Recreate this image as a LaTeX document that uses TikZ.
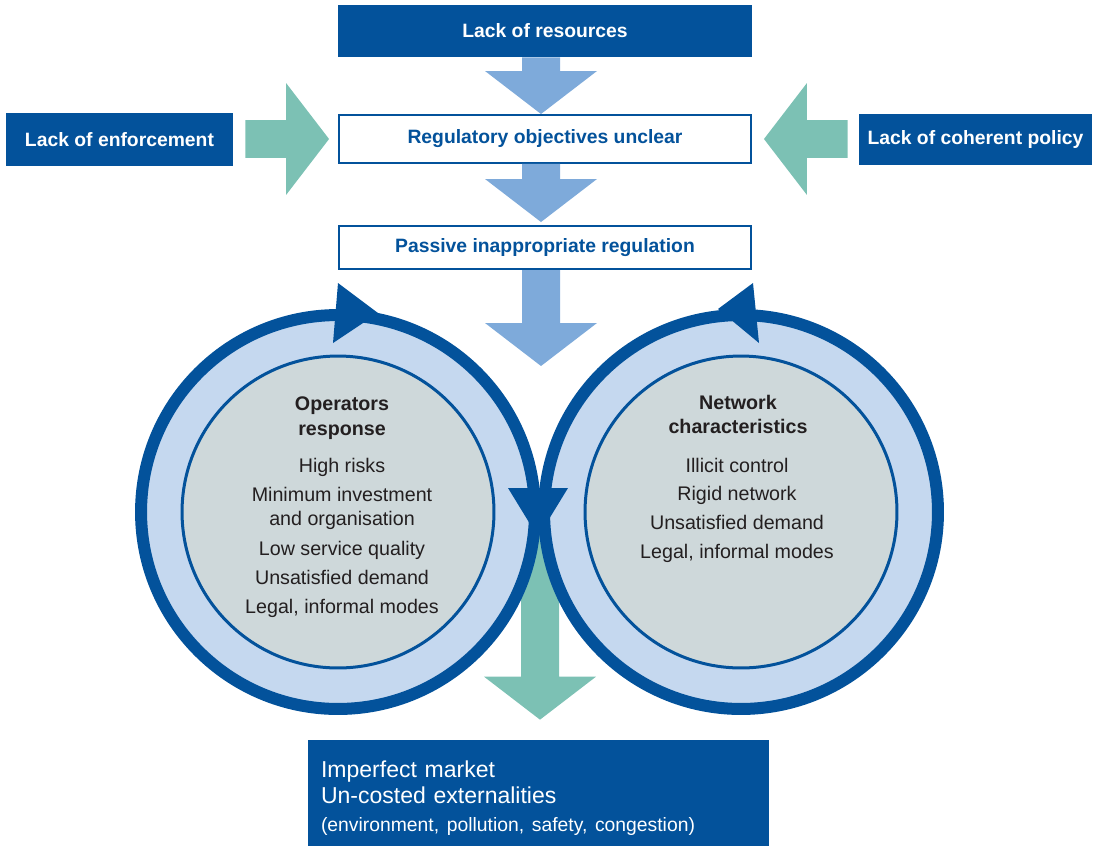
\documentclass[tikz,border=0pt]{standalone}
\usepackage{fontspec}
\setmainfont{Liberation Sans}
\usepackage{tikz}
\usetikzlibrary{calc}
\definecolor{navy}{RGB}{3,82,155}
\definecolor{skyarrow}{RGB}{126,170,218}
\definecolor{tealarrow}{RGB}{124,193,180}
\definecolor{ringfill}{RGB}{197,216,239}
\definecolor{corefill}{RGB}{206,216,218}
\definecolor{inktext}{RGB}{35,31,32}
\tikzset{
  loop chart/.style={
    dark box/.style={rectangle, fill=navy, text=white, inner sep=0pt,
        font={\bfseries\fontsize{11}{13}\selectfont}},
    light box/.style={rectangle, draw=navy, line width=0.04cm, fill=white, text=navy,
        inner sep=0pt, font={\bfseries\fontsize{11}{13}\selectfont}},
    ring/.style={circle, fill=ringfill, minimum size=7.88cm, inner sep=0pt},
    rim/.style={draw=navy, line width=0.24cm},
    core/.style={circle, fill=corefill, draw=navy, line width=0.06cm, minimum size=6.24cm, inner sep=0pt},
    ring head/.style={font={\bfseries\fontsize{11.2}{14}\selectfont}, text=inktext, anchor=base},
    ring item/.style={font={\fontsize{11.2}{14}\selectfont}, text=inktext, anchor=base},
  },
}
\pgfdeclarelayer{background}
\pgfsetlayers{background,main}
% block arrow from #2 to the tip #3
\newcommand{\fatarrow}[3][]{
    \coordinate (fa-base) at ($(#3)!0.86cm!(#2)$);
    \fill[#1] ($(#2)!0.38cm!90:(#3)$)
        -- ($(fa-base)!0.38cm!90:(#3)$)
        -- ($(fa-base)!1.12cm!90:(#3)$)
        -- (#3)
        -- ($(fa-base)!1.12cm!-90:(#3)$)
        -- ($(fa-base)!0.38cm!-90:(#3)$)
        -- ($(#2)!0.38cm!-90:(#3)$)
        -- cycle;
}
\begin{document}
\begin{tikzpicture}
[
    loop chart,
    x=0.02cm, y=-0.02cm,
]
    \useasboundingbox (0,0) rectangle (1097,845);

    \node[dark box, minimum width=8.28cm, minimum height=1.04cm] (resources) at (545,31) {Lack of resources};
    \node[light box, minimum width=8.24cm, minimum height=0.96cm] (unclear) at (545,139) {Regulatory objectives unclear};
    \node[light box, minimum width=8.24cm, minimum height=0.86cm] (passive) at (545,247.5) {Passive inappropriate regulation};
    \node[dark box, minimum width=4.54cm, minimum height=1.06cm] (enforce) at (119.5,139.5) {Lack of enforcement};
    \node[dark box, minimum width=4.66cm, minimum height=1.02cm] (policy) at (975.5,139.5) {Lack of coherent policy};
    \node[dark box, minimum width=9.22cm, minimum height=2.32cm, inner xsep=0.26cm,
        text width=8.7cm, align=left, font={\fontsize{13.1}{14.8}\selectfont}] (market) at (538.5,798)
        {Imperfect market\\Un-costed externalities\\[1.5pt]
         {\fontsize{11}{14.8}\selectfont (environment, pollution, safety, congestion)}};

    \coordinate (axis) at (541,0);
    \coordinate (res-out) at (resources.south -| axis);
    \coordinate (unc-in) at (unclear.north -| axis);
    \coordinate (unc-out) at (unclear.south -| axis);
    \coordinate (pas-in) at ($(passive.north -| axis)+(0,-3)$);
    \coordinate (pas-out) at (passive.south -| axis);
    \coordinate (loop-in) at (541,366);
    \coordinate (enf-out) at ($(enforce.east |- unclear.west)+(12,0)$);
    \coordinate (unc-left) at ($(unclear.west)+(-9,0)$);
    \coordinate (pol-out) at ($(policy.west |- unclear.east)+(-11,0)$);
    \coordinate (unc-right) at ($(unclear.east)+(12,0)$);
    \coordinate (meet) at (540,512);
    \coordinate (mkt-in) at ($(market.north -| meet)+(0,-20)$);

    \fatarrow[skyarrow]{res-out}{unc-in}
    \fatarrow[skyarrow]{unc-out}{pas-in}
    \fatarrow[skyarrow]{pas-out}{loop-in}
    \fatarrow[tealarrow]{enf-out}{unc-left}
    \fatarrow[tealarrow]{pol-out}{unc-right}
    \begin{pgfonlayer}{background}
    \fatarrow[tealarrow]{meet}{mkt-in}
    \end{pgfonlayer}

    % the two loops
    \node[ring] (lring) at (338,512) {};
    \node[ring] (rring) at (741,512) {};
    \draw[rim] (lring.center) circle[radius=3.94cm];
    \draw[rim] (rring.center) circle[radius=3.94cm];
    \fill[navy] (338,283) -- (378,313) -- (333,343) -- cycle;
    \fill[navy] (753,283) -- (718,309) -- (759,343) -- cycle;
    \fill[navy] (508,488) -- (568,488) -- (538,537) -- cycle;
    \node[core] (lcore) at (lring) {};
    \node[core] (rcore) at (rring) {};

    \foreach \t/\b [count=\i] in {Operators/410, response/435}
        \node[ring head] (ophead\i) at (342,\b) {\t};
    \foreach \t/\b [count=\i] in {High risks/472, Minimum investment/501, and organisation/525,
        Low service quality/555, Unsatisfied demand/584, {Legal, informal modes}/613}
        \node[ring item] (opitem\i) at (342,\b) {\t};
    \foreach \t/\b [count=\i] in {Network/409, characteristics/433}
        \node[ring head] (nethead\i) at (738,\b) {\t};
    \foreach \t/\b [count=\i] in {Illicit control/472, Rigid network/500,
        Unsatisfied demand/529, {Legal, informal modes}/558}
        \node[ring item] (netitem\i) at (737,\b) {\t};
\end{tikzpicture}
\end{document}
